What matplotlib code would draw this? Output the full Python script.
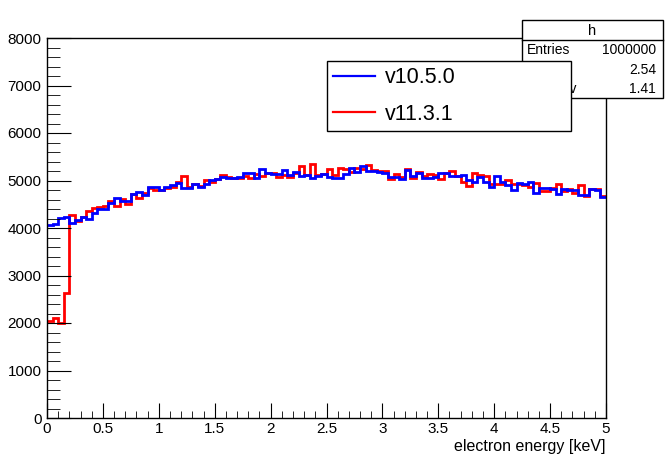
import numpy as np
import matplotlib
matplotlib.use('Agg')
import matplotlib.pyplot as plt
from matplotlib.patches import Rectangle
from matplotlib.lines import Line2D

plt.rcParams['font.family'] = ['Liberation Sans', 'DejaVu Sans']

# 100 bins of 0.05 keV between 0 and 5 keV
edges = np.linspace(0, 5, 101)

v10_5_0 = [
    4063, 4091, 4217, 4238, 4112, 4168, 4231, 4182, 4323, 4393,
    4393, 4519, 4639, 4575, 4575, 4716, 4765, 4702, 4856, 4856,
    4800, 4870, 4912, 4940, 4835, 4835, 4933, 4870, 4933, 5011,
    5032, 5081, 5060, 5060, 5081, 5165, 5165, 5060, 5242, 5165,
    5137, 5137, 5221, 5116, 5186, 5102, 5116, 5046, 5102, 5137,
    5081, 5060, 5060, 5137, 5256, 5172, 5305, 5200, 5207, 5186,
    5151, 5067, 5067, 5032, 5221, 5102, 5165, 5060, 5046, 5081,
    5165, 5151, 5102, 5102, 5116, 5011, 4962, 5081, 4976, 4870,
    5102, 4976, 4905, 4800, 4940, 4926, 4976, 4730, 4849, 4835,
    4814, 4709, 4821, 4800, 4800, 4695, 4695, 4821, 4800, 4660,
]

v11_3_1 = [
    2050, 2100, 2000, 2630, 4274, 4154, 4224, 4358, 4428, 4449,
    4470, 4568, 4470, 4603, 4498, 4716, 4625, 4744, 4849, 4800,
    4800, 4835, 4870, 4976, 5102, 4856, 4919, 4884, 5011, 4976,
    5032, 5116, 5081, 5060, 5060, 5102, 5060, 5137, 5102, 5151,
    5151, 5067, 5116, 5067, 5151, 5305, 5116, 5347, 5116, 5137,
    5242, 5116, 5270, 5242, 5172, 5270, 5235, 5326, 5221, 5207,
    5200, 5032, 5137, 5081, 5242, 5060, 5186, 5095, 5137, 5116,
    5025, 5151, 5207, 5102, 4976, 4891, 5165, 5116, 5102, 4926,
    4926, 4919, 5011, 4919, 4919, 4905, 4870, 4955, 4779, 4779,
    4835, 4926, 4786, 4814, 4730, 4905, 4681, 4814, 4814, 4681,
]

stats_entries = 1000000
stats_mean = 2.54
stats_std = 1.41

fig = plt.figure(figsize=(6.68, 4.58), dpi=100)
ax = fig.add_axes([47 / 668, 1 - 418 / 458, 559 / 668, 380 / 458])

ax.stairs(v11_3_1, edges, baseline=None, color='#ff0000', linewidth=2.0)
ax.stairs(v10_5_0, edges, baseline=None, color='#0000ff', linewidth=2.0)

ax.set_xlim(0, 5)
ax.set_ylim(0, 8000)
ax.set_xticks(np.arange(0, 5.01, 0.5))
ax.set_xticklabels(['0', '0.5', '1', '1.5', '2', '2.5', '3', '3.5', '4', '4.5', '5'])
ax.set_xticks(np.arange(0, 5.01, 0.1), minor=True)
ax.set_yticks(np.arange(0, 8001, 1000))
ax.set_yticks(np.arange(0, 8001, 200), minor=True)
ax.tick_params(which='both', direction='in', top=False, right=False, labelsize=11)
ax.tick_params(axis='x', which='major', length=11, pad=3)
ax.tick_params(axis='x', which='minor', length=5)
ax.tick_params(axis='y', which='major', length=17, pad=4)
ax.tick_params(axis='y', which='minor', length=9)
for sp in ax.spines.values():
    sp.set_linewidth(1.0)
ax.set_xlabel('electron energy [keV]', loc='right', fontsize=11.5, labelpad=2)

# stats box (drawn over the frame, under the legend)
bx, by, bw, bh = 522 / 668, 1 - 98 / 458, 141 / 668, 78 / 458
fig.patches.append(Rectangle((bx, by), bw, bh, transform=fig.transFigure,
                             facecolor='white', edgecolor='black', linewidth=1.0, zorder=5))
fig.lines.append(Line2D([bx, bx + bw], [1 - 40 / 458, 1 - 40 / 458],
                        transform=fig.transFigure, color='black', linewidth=1.0, zorder=6))
fig.text(bx + bw / 2, 1 - 31 / 458, 'h', ha='center', va='center', fontsize=10.5, zorder=6)
rows = [('Entries', f'{stats_entries}'), ('Mean', f'{stats_mean:.2f}'), ('Std Dev', f'{stats_std:.2f}')]
for i, (lab, val) in enumerate(rows):
    yy = 1 - (50 + 19.5 * i) / 458
    fig.text(527 / 668, yy, lab, ha='left', va='center', fontsize=10, zorder=6)
    fig.text(656 / 668, yy, val, ha='right', va='center', fontsize=10, zorder=6)

handles = [Line2D([], [], color='#0000ff', linewidth=1.6),
           Line2D([], [], color='#ff0000', linewidth=1.6)]
leg = fig.legend(handles, ['v10.5.0', 'v11.3.1'],
                 bbox_to_anchor=(327 / 668, 1 - 132 / 458, 244 / 668, 71 / 458),
                 loc='upper left', mode='expand', borderaxespad=0, fancybox=False,
                 edgecolor='black', framealpha=1, fontsize=15.5, handlelength=1.95,
                 handletextpad=0.47, labelspacing=0.72, borderpad=0.29)
leg.get_frame().set_linewidth(1.0)
leg.set_zorder(10)

fig.savefig('out.png', dpi=100)
